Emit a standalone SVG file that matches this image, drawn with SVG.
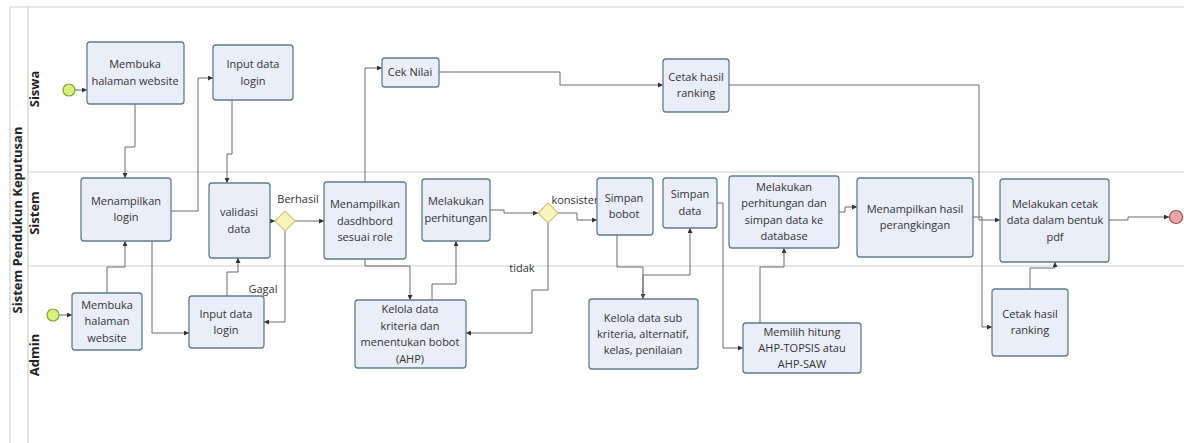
<svg xmlns="http://www.w3.org/2000/svg" width="1184" height="443" viewBox="0 0 1184 443">
<style>
.pool{fill:none;stroke:#cfcfcf;stroke-width:1.2}
.node rect{fill:#e9eef9;stroke:#5f7e8c;stroke-width:1.3}
.node text,.lbl{font-family:"Open Sans","Noto Sans",sans-serif;font-size:11px;fill:#333;text-anchor:middle}
.lane{font-family:"Open Sans","Noto Sans",sans-serif;font-size:13px;font-weight:bold;fill:#222;text-anchor:middle}
.gw{fill:#f8f5bd;stroke:#cfc77a;stroke-width:1.2}
.start{fill:#d9f07a;stroke:#8c9c34;stroke-width:1.2}
.end{fill:#f0a3a3;stroke:#a24848;stroke-width:1.2}
#connectors path{fill:none;stroke:#6a6a6a;stroke-width:1;marker-end:url(#arr)}
</style>
<defs>
<marker id="arr" viewBox="0 0 10 10" refX="10" refY="5" markerWidth="5" markerHeight="5" orient="auto" markerUnits="userSpaceOnUse">
<path d="M0,0 L10,5 L0,10 z" fill="#333"/>
</marker>
</defs>
<rect width="1184" height="443" fill="#ffffff"/>
<g id="pool">
<path class="pool" d="M1184,7 H10 V443 M28,7 V443 M28,172 H1184 M28,266 H1184"/>
<text class="lane" transform="translate(22,220) rotate(-90)">Sistem Pendukun Keputusan</text>
<text class="lane" transform="translate(39,89) rotate(-90)">Siswa</text>
<text class="lane" transform="translate(39,213) rotate(-90)">Sistem</text>
<text class="lane" transform="translate(39,355) rotate(-90)">Admin</text>
</g>
<g id="connectors">
<path d="M75,90 H87"/>
<path d="M135,104 V147 H125 V178"/>
<path d="M171,211 H198 V78 H213"/>
<path d="M232,100 V154 H227 V183"/>
<path d="M107,293 V267 H125 V241"/>
<path d="M59,315 H72"/>
<path d="M152,241 V333 H189"/>
<path d="M227,296 V272 H238 V258"/>
<path d="M270,221 H275"/>
<path d="M285,231 V322 H264"/>
<path d="M295,221 H324"/>
<path d="M365,182 V68 H382"/>
<path d="M439,72 H560 V85 H663"/>
<path d="M729,85 H979 V220 H1000"/>
<path d="M490,210 H504 V213 H538"/>
<path d="M558,213 H577 V220 H597"/>
<path d="M548,223 V290 H532 V333 H466"/>
<path d="M365,259 V266 H410 V300"/>
<path d="M432,300 V284 H456 V241"/>
<path d="M617,235 V267 H643 V299"/>
<path d="M643,299 V275 H690 V228"/>
<path d="M717,203 H723 V348 H743"/>
<path d="M760,323 V267 H784 V248"/>
<path d="M839,212 H845 V207 H857"/>
<path d="M973,217 H982 V327 H992"/>
<path d="M1109,220 H1128 V217 H1169"/>
<path d="M1030,289 V268 H1055 V262"/>
<text class="lbl" x="298" y="203">Berhasil</text>
<text class="lbl" x="263" y="293">Gagal</text>
<text class="lbl" x="576" y="204">konsisten</text>
<text class="lbl" x="522" y="272">tidak</text>
</g>
<g id="start-siswa"><circle class="start" cx="69" cy="90" r="6"/></g>
<g id="start-admin"><circle class="start" cx="53" cy="315" r="6"/></g>
<g id="end"><circle class="end" cx="1176" cy="217" r="6.5"/></g>
<g id="gw1"><polygon class="gw" points="285,211 295,221 285,231 275,221"/></g>
<g id="gw2"><polygon class="gw" points="548,203 558,213 548,223 538,213"/></g>
<g id="n1" class="node"><rect x="87" y="42" width="97" height="62" rx="3"/><text x="135" y="68">Membuka</text><text x="135" y="85">halaman website</text></g>
<g id="n2" class="node"><rect x="213" y="45" width="80" height="55" rx="3"/><text x="253" y="68">Input data</text><text x="253" y="85">login</text></g>
<g id="n3" class="node"><rect x="81" y="178" width="90" height="63" rx="3"/><text x="126" y="205">Menampilkan</text><text x="126" y="221">login</text></g>
<g id="n4" class="node"><rect x="209" y="183" width="61" height="75" rx="3"/><text x="239" y="216">validasi</text><text x="239" y="233">data</text></g>
<g id="n5" class="node"><rect x="72" y="293" width="70" height="57" rx="3"/><text x="107" y="309">Membuka</text><text x="107" y="325">halaman</text><text x="107" y="342">website</text></g>
<g id="n6" class="node"><rect x="189" y="296" width="75" height="52" rx="3"/><text x="226" y="318">Input data</text><text x="226" y="334">login</text></g>
<g id="n7" class="node"><rect x="382" y="58" width="57" height="29" rx="3"/><text x="410" y="76">Cek Nilai</text></g>
<g id="n8" class="node"><rect x="324" y="182" width="82" height="77" rx="3"/><text x="365" y="208">Menampilkan</text><text x="365" y="225">dasdhbord</text><text x="365" y="241">sesuai role</text></g>
<g id="n9" class="node"><rect x="422" y="179" width="68" height="62" rx="3"/><text x="456" y="205">Melakukan</text><text x="456" y="222">perhitungan</text></g>
<g id="n10" class="node"><rect x="355" y="300" width="111" height="68" rx="3"/><text x="410" y="313">Kelola data</text><text x="410" y="330">kriteria dan</text><text x="410" y="346">menentukan bobot</text><text x="410" y="363">(AHP)</text></g>
<g id="n11" class="node"><rect x="663" y="59" width="66" height="53" rx="3"/><text x="696" y="81">Cetak hasil</text><text x="696" y="97">ranking</text></g>
<g id="n12" class="node"><rect x="597" y="178" width="56" height="57" rx="3"/><text x="624" y="202">Simpan</text><text x="624" y="218">bobot</text></g>
<g id="n13" class="node"><rect x="663" y="178" width="54" height="50" rx="3"/><text x="690" y="198">Simpan</text><text x="690" y="215">data</text></g>
<g id="n14" class="node"><rect x="729" y="176" width="110" height="72" rx="3"/><text x="784" y="191">Melakukan</text><text x="784" y="207">perhitungan dan</text><text x="784" y="224">simpan data ke</text><text x="784" y="240">database</text></g>
<g id="n15" class="node"><rect x="589" y="299" width="109" height="70" rx="3"/><text x="643" y="322">Kelola data sub</text><text x="643" y="338">kriteria, alternatif,</text><text x="643" y="354">kelas, penilaian</text></g>
<g id="n16" class="node"><rect x="743" y="323" width="118" height="50" rx="3"/><text x="802" y="336">Memilih hitung</text><text x="802" y="352">AHP-TOPSIS atau</text><text x="802" y="368">AHP-SAW</text></g>
<g id="n17" class="node"><rect x="857" y="178" width="116" height="79" rx="3"/><text x="915" y="213">Menampilkan hasil</text><text x="915" y="229">perangkingan</text></g>
<g id="n18" class="node"><rect x="1000" y="179" width="109" height="83" rx="3"/><text x="1055" y="208">Melakukan cetak</text><text x="1055" y="224">data dalam bentuk</text><text x="1055" y="241">pdf</text></g>
<g id="n19" class="node"><rect x="992" y="289" width="76" height="67" rx="3"/><text x="1030" y="318">Cetak hasil</text><text x="1030" y="334">ranking</text></g>
</svg>
